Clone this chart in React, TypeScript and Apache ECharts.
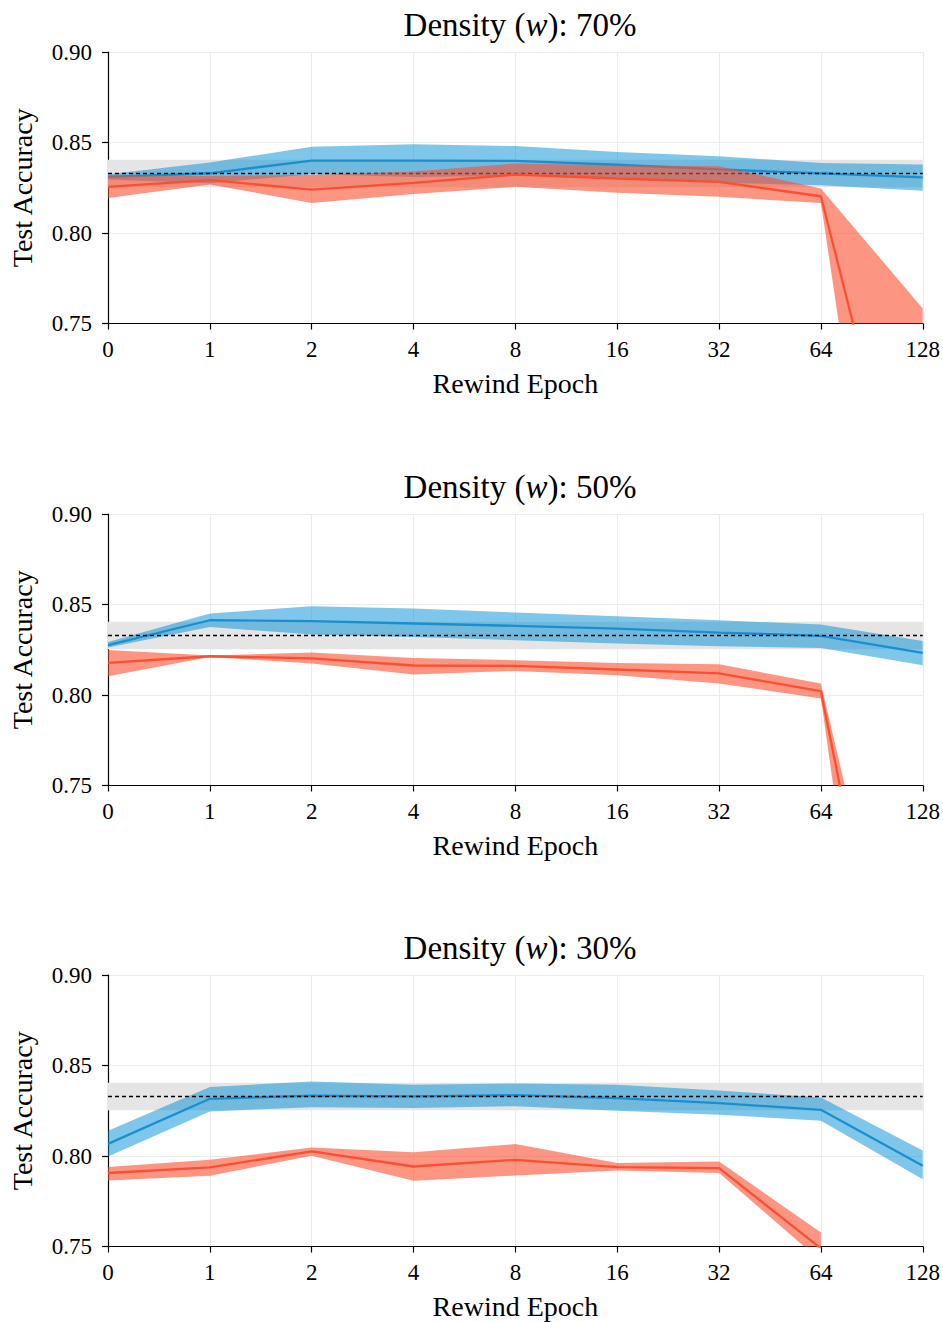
import React, { useEffect, useRef } from "react";
import * as echarts from "echarts";

const epochs = ["0", "1", "2", "4", "8", "16", "32", "64", "128"];
const densities = ["70%", "50%", "30%"];

// dense baseline (same in every panel)
const denseAcc = 0.833;
const denseLower = 0.8253;
const denseUpper = 0.8405;

// Density 70%
const blueMean70 = [0.831, 0.833, 0.840, 0.840, 0.8398, 0.8377, 0.8351, 0.8329, 0.8307];
const blueUpper70 = [0.8325, 0.839, 0.8476, 0.849, 0.848, 0.8448, 0.8424, 0.8387, 0.8378];
const blueLower70 = [0.8295, 0.8275, 0.8325, 0.831, 0.8316, 0.8306, 0.8278, 0.8264, 0.8233];
const redMean70 = [0.8255, 0.8292, 0.824, 0.8277, 0.8323, 0.8301, 0.8282, 0.8203, 0.598];
const redUpper70 = [0.832, 0.8315, 0.832, 0.834, 0.8384, 0.8374, 0.8369, 0.8246, 0.7583];
const redLower70 = [0.8194, 0.8268, 0.8166, 0.8215, 0.8255, 0.8222, 0.82, 0.8166, 0.44];

// Density 50%
const blueMean50 = [0.8275, 0.8413, 0.8408, 0.8395, 0.8382, 0.8367, 0.8345, 0.8327, 0.8233];
const blueUpper50 = [0.8293, 0.845, 0.8491, 0.8478, 0.8456, 0.8435, 0.8413, 0.8389, 0.8299];
const blueLower50 = [0.8262, 0.8376, 0.8334, 0.8321, 0.8303, 0.8285, 0.827, 0.826, 0.8165];
const redMean50 = [0.8177, 0.8214, 0.8202, 0.8163, 0.8161, 0.8141, 0.8119, 0.8021, 0.522];
const redUpper50 = [0.8248, 0.8218, 0.8235, 0.8205, 0.8192, 0.8177, 0.817, 0.8063, 0.567];
const redLower50 = [0.8104, 0.821, 0.8174, 0.8113, 0.8133, 0.8109, 0.8064, 0.7981, 0.4];

// Density 30%
const blueMean30 = [0.8067, 0.8316, 0.8333, 0.8329, 0.8336, 0.832, 0.8292, 0.8255, 0.7946];
const blueUpper30 = [0.8139, 0.8381, 0.8412, 0.8393, 0.8401, 0.8393, 0.8362, 0.8323, 0.803];
const blueLower30 = [0.7997, 0.8246, 0.827, 0.8265, 0.8275, 0.825, 0.8228, 0.8195, 0.7872];
const redMean30 = [0.7906, 0.7937, 0.8025, 0.7942, 0.7979, 0.7939, 0.7933, 0.749, null];
const redUpper30 = [0.7939, 0.7979, 0.8047, 0.8021, 0.8066, 0.7961, 0.797, 0.7577, null];
const redLower30 = [0.7865, 0.7891, 0.8001, 0.7863, 0.7892, 0.792, 0.7906, 0.742, null];

const yTicks = [0.75, 0.8, 0.85, 0.9];

const panels = [
  { density: densities[0], bm: blueMean70, bu: blueUpper70, bl: blueLower70, rm: redMean70, ru: redUpper70, rl: redLower70 },
  { density: densities[1], bm: blueMean50, bu: blueUpper50, bl: blueLower50, rm: redMean50, ru: redUpper50, rl: redLower50 },
  { density: densities[2], bm: blueMean30, bu: blueUpper30, bl: blueLower30, rm: redMean30, ru: redUpper30, rl: redLower30 },
];

const FONT = '"Liberation Serif", "DejaVu Serif", serif';
const BLUE = "#1a8fd0";
const RED = "#fc4f30";
const GRID_TOPS = [52, 514, 975];
const GRID_H = 271.5;

function band(i: number, lower: (number | null)[], upper: (number | null)[], color: string, key: string, z: number) {
  const diff = upper.map((u, k) => (u == null || lower[k] == null ? null : (u as number) - (lower[k] as number)));
  return [
    {
      type: "line", xAxisIndex: i, yAxisIndex: i, data: lower, stack: key + i,
      symbol: "none", lineStyle: { width: 0, opacity: 0 }, silent: true, z,
    },
    {
      type: "line", xAxisIndex: i, yAxisIndex: i, data: diff, stack: key + i,
      symbol: "none", lineStyle: { width: 0, opacity: 0 }, areaStyle: { color, opacity: 1 }, silent: true, z,
    },
  ];
}

export default function App() {
  const ref = useRef<HTMLDivElement>(null);
  useEffect(() => {
    document.body.style.margin = "0";
    if (!ref.current) return;
    const chart = echarts.init(ref.current, null, { renderer: "svg" });

    const grids: any[] = [];
    const xAxes: any[] = [];
    const yAxes: any[] = [];
    const titles: any[] = [];
    const series: any[] = [];

    panels.forEach((p, i) => {
      grids.push({ left: 107, right: 20, top: GRID_TOPS[i], height: GRID_H });
      titles.push({
        text: `Density ({w|w}): ${p.density}`,
        left: 515,
        textAlign: "center",
        top: GRID_TOPS[i] - 49,
        textStyle: {
          fontFamily: FONT, fontSize: 33, fontWeight: "normal", color: "#000",
          rich: { w: { fontFamily: FONT, fontSize: 33, fontStyle: "italic", color: "#000" } },
        },
      });
      xAxes.push({
        type: "category", gridIndex: i, data: epochs, boundaryGap: false,
        name: "Rewind Epoch", nameLocation: "middle", nameGap: 46,
        nameTextStyle: { fontFamily: FONT, fontSize: 28, color: "#000" },
        axisLine: { show: true, lineStyle: { color: "#000", width: 1.2 } },
        axisTick: { show: true, inside: false, length: 6, lineStyle: { color: "#000", width: 1.2 } },
        axisLabel: { fontFamily: FONT, fontSize: 23, color: "#000", margin: 14 },
        splitLine: { show: true, lineStyle: { color: "#ebebeb", width: 1 } },
      });
      yAxes.push({
        type: "value", gridIndex: i, min: yTicks[0], max: yTicks[yTicks.length - 1], interval: 0.05,
        name: "Test Accuracy", nameLocation: "middle", nameGap: 72,
        nameTextStyle: { fontFamily: FONT, fontSize: 28, color: "#000" },
        axisLine: { show: true, lineStyle: { color: "#000", width: 1.2 } },
        axisTick: { show: true, inside: false, length: 6, lineStyle: { color: "#000", width: 1.2 } },
        axisLabel: { fontFamily: FONT, fontSize: 23, color: "#000", margin: 16, formatter: (v: number) => v.toFixed(2) },
        splitLine: { show: true, lineStyle: { color: "#ebebeb", width: 1 } },
      });

      // dense baseline band + dashed line
      series.push({
        type: "line", xAxisIndex: i, yAxisIndex: i, data: [], silent: true, z: 1,
        markArea: {
          silent: true, itemStyle: { color: "#e5e5e5" },
          data: [[{ yAxis: denseLower }, { yAxis: denseUpper }]],
        },
        markLine: {
          silent: true, symbol: "none", precision: 4, label: { show: false },
          lineStyle: { color: "#000", type: [4, 3], width: 1.4 },
          data: [{ yAxis: denseAcc }],
        },
      });
      series.push(...band(i, p.bl, p.bu, "rgba(0,143,213,0.5)", "blue", 2));
      series.push({
        type: "line", xAxisIndex: i, yAxisIndex: i, data: p.bm, symbol: "none",
        lineStyle: { color: BLUE, width: 2.3 }, silent: true, z: 2,
      });
      series.push(...band(i, p.rl, p.ru, "rgba(252,79,48,0.6)", "red", 6));
      series.push({
        type: "line", xAxisIndex: i, yAxisIndex: i, data: p.rm, symbol: "none",
        lineStyle: { color: RED, width: 2.3 }, silent: true, z: 6,
      });
    });

    chart.setOption({
      animation: false,
      backgroundColor: "#fff",
      title: titles,
      grid: grids,
      xAxis: xAxes,
      yAxis: yAxes,
      series,
    });
    return () => chart.dispose();
  }, []);
  return <div ref={ref} style={{ width: 943, height: 1322 }} />;
}
